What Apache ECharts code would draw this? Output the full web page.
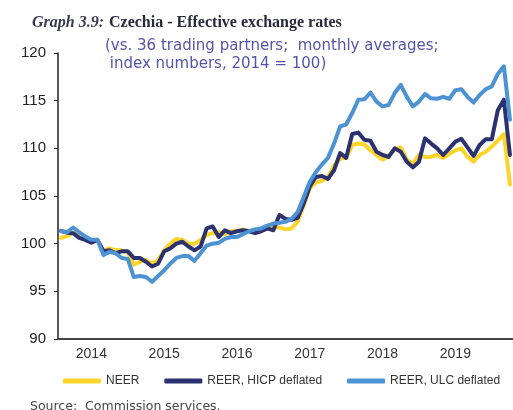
<!DOCTYPE html>
<html>
<head>
<meta charset="utf-8">
<script src="https://cdn.jsdelivr.net/npm/echarts@6/dist/echarts.min.js"></script>
<style>
  html, body { margin: 0; padding: 0; background: #fff; }
  #main { width: 513px; height: 410px; }
</style>
</head>
<body>
<div id="main"></div>
<script>
// monthly, Jan 2014 - Mar 2020
const years = ['2014', '2015', '2016', '2017', '2018', '2019', '2020']
const months = []
years.forEach(function (y) {
  for (let m = 1; m <= 12; m++) {
    if (y === '2020' && m > 3) break
    months.push(y + '-' + (m < 10 ? '0' + m : m))
  }
})

const neer = [
  100.6, 100.8, 101.15, 100.7, 100.4, 100.2, 100.3, 99.3, 99.5, 99.3,
  99.3, 99.1, 97.8, 98.1, 98.3, 97.9, 98.3, 99.3, 100.0, 100.5,
  100.4, 100.0, 100.0, 100.4, 100.9, 101.1, 101.2, 101.0, 101.3, 101.3,
  101.5, 101.3, 101.4, 101.5, 101.6, 101.75, 101.7, 101.5, 101.6, 102.3,
  104.0, 105.8, 106.4, 106.6, 107.0, 108.2, 108.9, 109.0, 110.35, 110.5,
  110.4, 109.8, 109.3, 108.8, 109.2, 109.9, 110.1, 108.8, 108.4, 109.3,
  109.1, 109.1, 109.3, 109.0, 109.4, 109.8, 110.0, 109.1, 108.6, 109.3,
  109.65, 110.2, 110.8, 111.5, 106.2
]
const reerHicp = [
  101.35, 101.15, 101.1, 100.6, 100.4, 100.1, 100.4, 99.2, 99.3, 99.0,
  99.2, 99.2, 98.5, 98.5, 98.1, 97.6, 97.9, 99.2, 99.5, 100.0,
  100.2, 99.7, 99.3, 99.7, 101.6, 101.8, 100.7, 101.4, 101.1, 101.3,
  101.4, 101.3, 101.1, 101.3, 101.6, 101.4, 103.0, 102.6, 102.5, 102.7,
  104.2, 106.0, 107.0, 107.1, 106.8, 107.7, 109.5, 109.0, 111.5, 111.65,
  110.9, 110.8, 109.65, 109.3, 109.1, 110.0, 109.65, 108.6, 108.0, 108.6,
  111.05, 110.5, 110.0, 109.3, 110.0, 110.7, 111.0, 110.1, 109.2, 110.35,
  110.95, 110.95, 114.0, 115.1, 109.3
]
const reerUlc = [
  101.3, 101.2, 101.7, 101.2, 100.75, 100.4, 100.4, 98.8, 99.15, 99.0,
  98.5, 98.4, 96.5, 96.6, 96.5, 96.0, 96.6, 97.2, 97.9, 98.5,
  98.7, 98.7, 98.2, 99.0, 99.8, 100.0, 100.1, 100.5, 100.7, 100.7,
  101.0, 101.3, 101.5, 101.6, 101.9, 102.1, 102.2, 102.3, 102.6, 103.3,
  104.9, 106.5, 107.5, 108.3, 109.0, 110.5, 112.3, 112.5, 113.7, 115.1,
  115.15, 115.85, 114.9, 114.4, 114.55, 115.8, 116.65, 115.4, 114.4, 114.9,
  115.7, 115.25, 115.2, 115.4, 115.2, 116.1, 116.2, 115.4, 114.8, 115.6,
  116.2, 116.5, 117.8, 118.6, 113.0
]

const seriesNames = ['NEER', 'REER, HICP deflated', 'REER, ULC deflated']
const colors = ['#FDD42A', '#2C3270', '#4D93D4']

const myChart = echarts.init(document.getElementById('main'))

function lineSeries(name, data, color) {
  return {
    name: name,
    type: 'line',
    data: data,
    symbol: 'none',
    animation: false,
    lineStyle: { width: 4, color: color, cap: 'round', join: 'round' },
    itemStyle: { color: color }
  }
}

const option = {
  color: colors,
  animation: false,
  title: [
    {
      text: '{a|Graph 3.9:} {b|Czechia - Effective exchange rates}',
      left: 27,
      top: 9,
      textStyle: {
        rich: {
          a: { fontFamily: 'Liberation Serif', fontStyle: 'italic', fontSize: 16, color: '#3a3a55' },
          b: { fontFamily: 'Liberation Serif', fontWeight: 'bold', fontSize: 16, color: '#2a2a3a' }
        }
      }
    },
    {
      text: '(vs. 36 trading partners;  monthly averages;\n index numbers, 2014 = 100)',
      left: 100,
      top: 32,
      textStyle: { fontFamily: 'DejaVu Sans', fontWeight: 'normal', fontSize: 15, color: '#5454aa', lineHeight: 18 }
    },
    {
      text: 'Source:  Commission services.',
      left: 25,
      top: 395,
      textStyle: { fontFamily: 'DejaVu Sans', fontWeight: 'normal', fontSize: 12.5, color: '#444' }
    }
  ],
  legend: {
    data: seriesNames,
    left: 58,
    top: 370,
    icon: 'roundRect',
    itemWidth: 38,
    itemHeight: 5,
    itemGap: 25,
    textStyle: { fontFamily: 'Liberation Sans', fontSize: 12, color: '#333' }
  },
  grid: { left: 58, right: -4, top: 53, bottom: 71 },
  xAxis: [
    {
      type: 'category',
      data: months,
      boundaryGap: true,
      axisLine: { lineStyle: { color: '#444', width: 2 } },
      axisTick: {
        length: 4,
        lineStyle: { color: '#444', width: 1.5 },
        interval: function (i) { return i % 12 === 0 }
      },
      axisLabel: {
        interval: function (i) { return i % 12 === 5 },
        formatter: function (v) { return v.slice(0, 4) },
        fontFamily: 'Liberation Sans',
        fontSize: 14,
        color: '#333',
        margin: 8
      },
      splitLine: { show: false }
    },
    {
      // ticks crossing the axis upward
      type: 'category',
      data: months,
      position: 'bottom',
      boundaryGap: true,
      axisLine: { show: false },
      axisTick: {
        inside: true,
        length: 4,
        lineStyle: { color: '#444', width: 1.5 },
        interval: function (i) { return i % 12 === 0 }
      },
      axisLabel: { show: false },
      splitLine: { show: false }
    }
  ],
  yAxis: {
    type: 'value',
    min: 90,
    max: 120,
    interval: 5,
    axisLine: { show: true, lineStyle: { color: '#222', width: 1.5 } },
    axisTick: { show: true, length: 4, lineStyle: { color: '#222' } },
    axisLabel: { fontFamily: 'Liberation Sans', fontSize: 15, color: '#222', margin: 12 },
    splitLine: { show: false }
  },
  series: [
    lineSeries(seriesNames[0], neer, colors[0]),
    lineSeries(seriesNames[1], reerHicp, colors[1]),
    lineSeries(seriesNames[2], reerUlc, colors[2])
  ]
}
myChart.setOption(option)
</script>
</body>
</html>
